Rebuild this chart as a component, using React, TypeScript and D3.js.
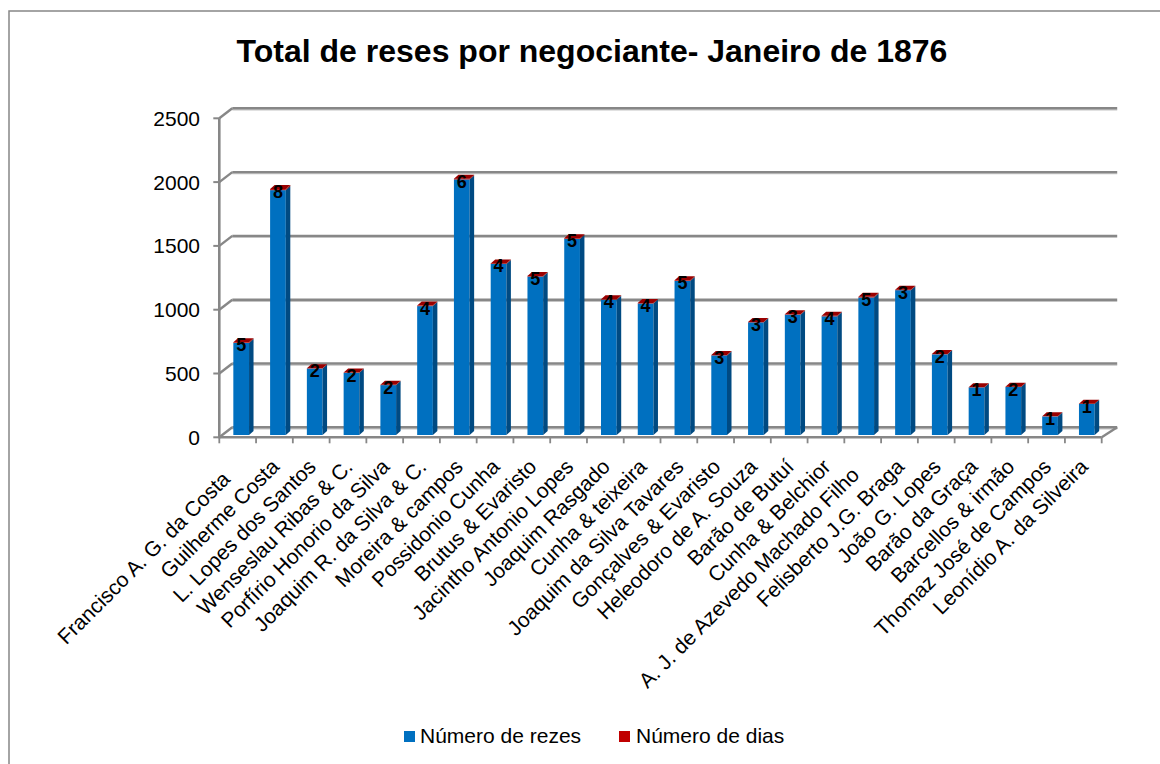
import React from "react";
import * as d3 from "d3";

const title = "Total de reses por negociante- Janeiro de 1876";

// (trailing spaces kept as in the source spreadsheet labels)
const categories = [
  "Francisco A. G. da Costa   ",
  "Guilherme Costa",
  "L. Lopes dos Santos",
  "Wenseslau Ribas & C.",
  "Porfírio Honorio da Silva",
  "Joaquim R. da Silva & C.",
  "Moreira & campos",
  "Possidonio Cunha",
  "Brutus & Evaristo",
  "Jacintho Antonio Lopes",
  "Joaquim Rasgado",
  "Cunha & teixeira",
  "Joaquim da Silva Tavares",
  "Gonçalves & Evaristo",
  "Heleodoro de A. Souza",
  "Barão de Butuí",
  "Cunha & Belchior",
  "A. J. de Azevedo Machado Filho  ",
  "Felisberto J.G. Braga",
  "João G. Lopes",
  "Barão da Graça",
  "Barcellos & irmão",
  "Thomaz José de Campos",
  "Leonídio A. da Silveira",
];

const numeroDeRezes = [
  721, 1919, 521, 487, 391, 1010, 2003, 1341, 1242, 1537, 1060, 1031, 1207,
  624, 883, 943, 930, 1078, 1135, 632, 373, 376, 145, 244,
];

const numeroDeDias = [
  5, 8, 2, 2, 2, 4, 6, 4, 5, 5, 4, 4, 5, 3, 3, 3, 4, 5, 3, 2, 1, 2, 1, 1,
];

const yTicks = [0, 500, 1000, 1500, 2000, 2500];

const seriesNames = ["Número de rezes", "Número de dias"];

const W = 1160;
const H = 764;
const FONT = "'Liberation Sans', Arial, sans-serif";

export default function App() {
  const x0 = 219.3;
  const x1 = 1101.7;
  const yBase = 437.3;
  const yTop = 118.3;
  const depth = { dx: 13, dy: -10 }; // wall depth
  const barOff = { dx: 3, dy: -2.3 }; // bar front plane offset
  const barDepth = { dx: 4.5, dy: -4 };
  const faceW = 15.7;

  const x = d3.scaleBand<string>().domain(categories).range([x0, x1]).padding(0);
  const y = d3.scaleLinear().domain([0, 2500]).range([yBase, yTop]);

  const gridColor = "#878787";
  const blue = "#0070C0";
  const blueSide = "#004A82";
  const red = "#C00000";
  const redTop = "#9A0000";
  const redSide = "#7A0000";

  const bars = categories.map((c, i) => {
    const cx = (x(c) as number) + x.bandwidth() / 2 + barOff.dx + 0.5;
    const xl = cx - faceW / 2;
    const xr = cx + faceW / 2;
    const yb = y(0) + barOff.dy;
    const yr = y(numeroDeRezes[i]) + barOff.dy;
    const yd = y(numeroDeRezes[i] + numeroDeDias[i]) + barOff.dy;
    const { dx, dy } = barDepth;
    const side = (ya: number, yb2: number) =>
      `${xr},${ya} ${xr + dx},${ya + dy} ${xr + dx},${yb2 + dy} ${xr},${yb2}`;
    const top = `${xl},${yd} ${xl + dx},${yd + dy} ${xr + dx},${yd + dy} ${xr},${yd}`;
    return (
      <g key={c}>
        <rect x={xl} y={yr} width={faceW} height={yb - yr} fill={blue} />
        <polygon points={side(yr, yb)} fill={blueSide} />
        <rect x={xl} y={yd} width={faceW} height={Math.max(yr - yd, 0)} fill={red} />
        <polygon points={side(yd, yr)} fill={redSide} />
        <polygon points={top} fill={redTop} />
        <text
          x={cx}
          y={yd + 9}
          textAnchor="middle"
          fontFamily={FONT}
          fontWeight="bold"
          fontSize={18}
          fill="#000"
        >
          {numeroDeDias[i]}
        </text>
      </g>
    );
  });

  return (
    <svg
      width={W}
      height={H}
      style={{ position: "absolute", left: 0, top: 0, background: "#fff" }}
    >
      <rect x={0} y={0} width={W} height={H} fill="#fff" />
      {/* chart border */}
      <rect x={9} y={11} width={1200} height={900} fill="none" stroke="#878787" strokeWidth={1.5} />

      {/* title */}
      <text
        x={592}
        y={62}
        textAnchor="middle"
        fontFamily={FONT}
        fontWeight="bold"
        fontSize={32}
        fill="#000"
      >
        {title}
      </text>

      {/* back wall gridlines */}
      {yTicks.map((t) => {
        const yy = y(t) + depth.dy;
        return (
          <g key={"g" + t}>
            <line x1={x0 + depth.dx} x2={x1 + 15.5} y1={yy + 1.6} y2={yy + 1.6} stroke="#c4c4c4" strokeWidth={1.2} />
            <line x1={x0 + depth.dx} x2={x1 + 15.5} y1={yy} y2={yy} stroke={gridColor} strokeWidth={2.4} />
            <line x1={x0} y1={y(t)} x2={x0 + depth.dx} y2={yy} stroke={gridColor} strokeWidth={2.4} />
            <line x1={x0 - 6} x2={x0} y1={y(t)} y2={y(t)} stroke={gridColor} strokeWidth={2} />
            <text
              x={200}
              y={y(t) + 7.5}
              textAnchor="end"
              fontFamily={FONT}
              fontSize={21}
              fill="#000"
            >
              {t}
            </text>
          </g>
        );
      })}

      {/* floor right edge */}
      <line x1={x1} y1={yBase} x2={x1 + 15.5} y2={yBase + depth.dy} stroke={gridColor} strokeWidth={2.4} />

      {bars}

      {/* front axes */}
      <line x1={x0} y1={yTop} x2={x0} y2={yBase + 1} stroke={gridColor} strokeWidth={2.6} />
      <line x1={x0} y1={yBase} x2={x1} y2={yBase} stroke={gridColor} strokeWidth={2.6} />
      {categories.map((c) => (
        <line
          key={"t" + c}
          x1={x(c) as number}
          x2={x(c) as number}
          y1={yBase}
          y2={yBase + 6}
          stroke={gridColor}
          strokeWidth={1.8}
        />
      ))}
      <line x1={x1} x2={x1} y1={yBase} y2={yBase + 6} stroke={gridColor} strokeWidth={1.8} />

      {/* category labels */}
      {categories.map((c) => {
        const ax = (x(c) as number) + x.bandwidth() / 2 + 6;
        const ay = 468;
        return (
          <text
            key={"l" + c}
            transform={`translate(${ax},${ay}) rotate(-45)`}
            textAnchor="end"
            fontFamily={FONT}
            fontSize={21}
            fill="#000"
            style={{ whiteSpace: "pre" }}
          >
            {c}
          </text>
        );
      })}

      {/* legend */}
      <rect x={404} y={731} width={11} height={11} fill={blue} />
      <text x={420} y={743} fontFamily={FONT} fontSize={21} fill="#000">
        {seriesNames[0]}
      </text>
      <rect x={619} y={731} width={11} height={11} fill={red} />
      <text x={636} y={743} fontFamily={FONT} fontSize={21} fill="#000">
        {seriesNames[1]}
      </text>
    </svg>
  );
}
